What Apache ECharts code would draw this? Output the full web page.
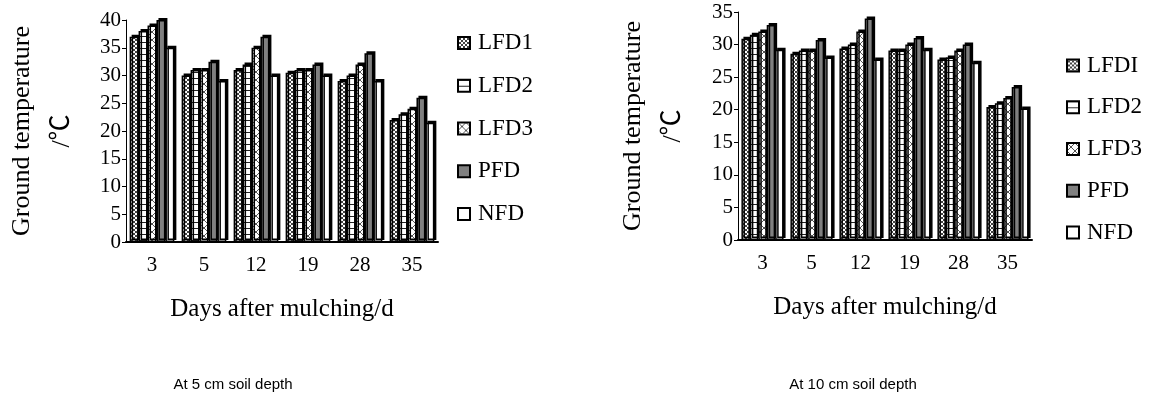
<!DOCTYPE html>
<html>
<head>
<meta charset="utf-8">
<script src="https://cdn.jsdelivr.net/npm/echarts@6/dist/echarts.min.js"></script>
<style>
  html, body { margin: 0; padding: 0; background: #fff; }
  #main { width: 1149px; height: 403px; }
</style>
</head>
<body>
<div id="main"></div>
<script>
// 数据
const days = ['3', '5', '12', '19', '28', '35'];

const names5 = ['LFD1', 'LFD2', 'LFD3', 'PFD', 'NFD'];
const lfd1_5 = [37, 30, 31, 30.5, 29, 22];
const lfd2_5 = [38, 31, 32, 31, 30, 23];
const lfd3_5 = [39, 31, 35, 31, 32, 24];
const pfd_5 = [40, 32.5, 37, 32, 34, 26];
const nfd_5 = [35, 29, 30, 30, 29, 21.5];

const names10 = ['LFDI', 'LFD2', 'LFD3', 'PFD', 'NFD'];
const lfd1_10 = [30.9, 28.6, 29.4, 29.1, 27.7, 20.4];
const lfd2_10 = [31.5, 29.1, 30, 29.1, 28, 21];
const lfd3_10 = [32, 29.1, 32, 30, 29.1, 21.8];
const pfd_10 = [33, 30.7, 34, 31, 30, 23.5];
const nfd_10 = [29.2, 28, 27.7, 29.2, 27.2, 20.2];

const serif = '"Liberation Serif", "Times New Roman", "Noto Sans CJK SC", serif';

// 填充纹理
function pattern(kind) {
  const c = document.createElement('canvas');
  const ctx = c.getContext('2d');
  if (kind === 'dots') {
    c.width = 4; c.height = 4;
    ctx.fillStyle = '#fff'; ctx.fillRect(0, 0, 4, 4);
    ctx.strokeStyle = '#444'; ctx.lineWidth = 1;
    ctx.beginPath();
    ctx.moveTo(0, 0); ctx.lineTo(4, 4);
    ctx.moveTo(4, 0); ctx.lineTo(0, 4);
    ctx.stroke();
  } else if (kind === 'hlines') {
    c.width = 4; c.height = 6;
    ctx.fillStyle = '#fff'; ctx.fillRect(0, 0, 4, 6);
    ctx.fillStyle = '#222'; ctx.fillRect(0, 0, 4, 1);
  } else if (kind === 'xhatch') {
    c.width = 8; c.height = 8;
    ctx.fillStyle = '#fff'; ctx.fillRect(0, 0, 8, 8);
    ctx.strokeStyle = '#555'; ctx.lineWidth = 1;
    ctx.beginPath();
    ctx.moveTo(0, 0); ctx.lineTo(8, 8);
    ctx.moveTo(8, 0); ctx.lineTo(0, 8);
    ctx.stroke();
  }
  return { image: c, repeat: 'repeat' };
}

const fills = [pattern('dots'), pattern('hlines'), pattern('xhatch'), '#808080', '#ffffff'];

function makeSeries(names, values, idx) {
  return names.map((n, i) => ({
    name: n,
    type: 'bar',
    xAxisIndex: idx,
    yAxisIndex: idx,
    barGap: '0%',
    barCategoryGap: '14%',
    itemStyle: {
      color: fills[i],
      borderColor: '#000',
      borderWidth: 1.5,
      shadowColor: '#000',
      shadowOffsetX: 2,
      shadowOffsetY: -2,
      shadowBlur: 0
    },
    data: values[i]
  }));
}

function xAxis(idx) {
  return {
    type: 'category',
    gridIndex: idx,
    data: days,
    name: 'Days after mulching/d',
    nameLocation: 'middle',
    nameGap: 55,
    nameTextStyle: { fontFamily: serif, fontSize: 25, color: '#000' },
    axisLine: { lineStyle: { color: '#000', width: 2 } },
    axisTick: { inside: true, length: 5, lineStyle: { color: '#000', width: 2 } },
    axisLabel: { fontFamily: serif, fontSize: 21, color: '#000', margin: 13 }
  };
}

function yAxis(idx, max, gap) {
  return {
    type: 'value',
    gridIndex: idx,
    min: 0,
    max: max,
    interval: 5,
    name: 'Ground temperature\n/℃',
    nameLocation: 'middle',
    nameRotate: 90,
    nameGap: gap,
    nameTextStyle: { fontFamily: serif, fontSize: 26, color: '#000', lineHeight: 40 },
    splitLine: { show: false },
    axisLine: { show: true, lineStyle: { color: '#000', width: 1 } },
    axisTick: { show: true, length: 4, lineStyle: { color: '#000' } },
    axisLabel: { fontFamily: serif, fontSize: 21, color: '#000', margin: 5 }
  };
}

function legend(names, left, top, gap) {
  return {
    data: names,
    orient: 'vertical',
    left: left,
    top: top,
    padding: 0,
    icon: 'rect',
    itemWidth: 12,
    itemHeight: 12,
    itemGap: gap,
    textStyle: { fontFamily: serif, fontSize: 23, color: '#000', padding: [0, 0, 0, 3] }
  };
}

const myChart = echarts.init(document.getElementById('main'));
const option = {
  animation: false,
  backgroundColor: '#fff',
  grid: [
    { left: 126, top: 20, width: 312, height: 222 },
    { left: 738, top: 12, width: 294, height: 228 }
  ],
  xAxis: [xAxis(0), xAxis(1)],
  yAxis: [yAxis(0, 40, 44), yAxis(1, 35, 45)],
  legend: [
    legend(names5, 457, 31.5, 19.75),
    legend(names10, 1066, 54, 18.75)
  ],
  graphic: [
    {
      type: 'text', x: 233, y: 385,
      style: { text: 'At 5 cm soil depth', fontFamily: '"Liberation Sans", Arial, sans-serif', fontSize: 15, fill: '#000', textAlign: 'center', textVerticalAlign: 'middle' }
    },
    {
      type: 'text', x: 853, y: 385,
      style: { text: 'At 10 cm soil depth', fontFamily: '"Liberation Sans", Arial, sans-serif', fontSize: 15, fill: '#000', textAlign: 'center', textVerticalAlign: 'middle' }
    }
  ],
  series: makeSeries(names5, [lfd1_5, lfd2_5, lfd3_5, pfd_5, nfd_5], 0)
    .concat(makeSeries(names10, [lfd1_10, lfd2_10, lfd3_10, pfd_10, nfd_10], 1))
};
myChart.setOption(option);
</script>
</body>
</html>
